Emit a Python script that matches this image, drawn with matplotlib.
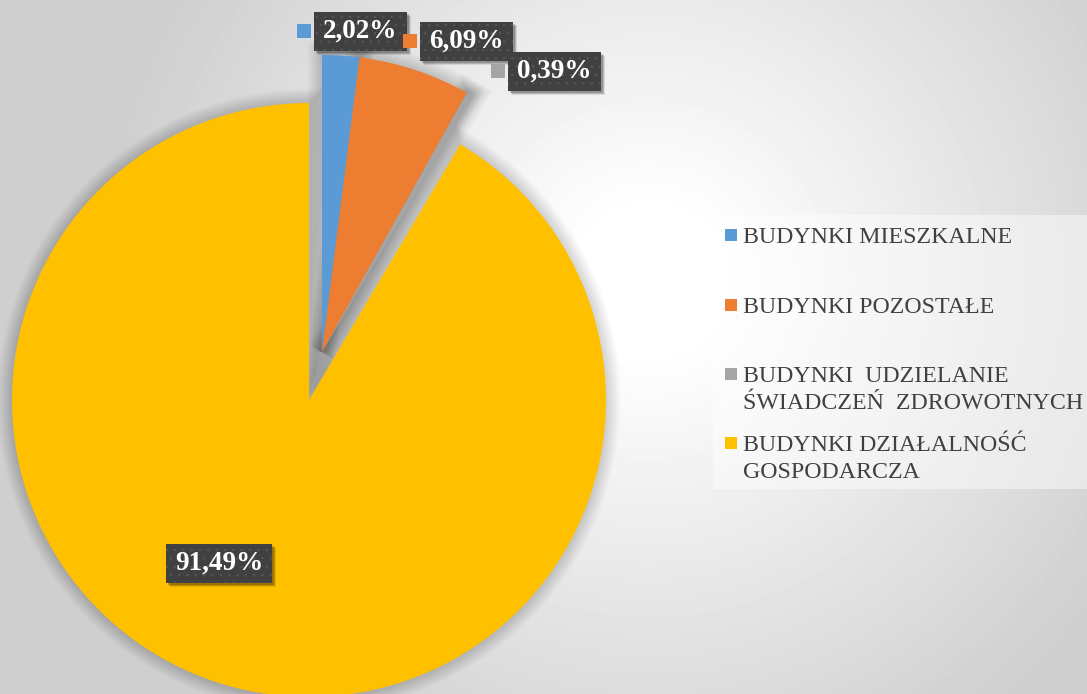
import numpy as np
import matplotlib.pyplot as plt
import matplotlib.patheffects as pe
from matplotlib.patches import Rectangle

# dane z wykresu
categories = ['BUDYNKI MIESZKALNE',
              'BUDYNKI POZOSTAŁE',
              'BUDYNKI  UDZIELANIE\nŚWIADCZEŃ  ZDROWOTNYCH',
              'BUDYNKI DZIAŁALNOŚĆ\nGOSPODARCZA']
values = [2.02, 6.09, 0.39, 91.49]
value_labels = ['2,02%', '6,09%', '0,39%', '91,49%']
colors = ['#5b9bd5', '#ed7d31', '#a5a5a5', '#ffc000']

W, H = 1087, 694
plt.rcParams['font.family'] = ['Liberation Serif', 'DejaVu Serif']
plt.rcParams['hatch.color'] = '#555555'
plt.rcParams['hatch.linewidth'] = 0.6

fig = plt.figure(figsize=(W / 100, H / 100), dpi=100)
ax = fig.add_axes([0, 0, 1, 1])

# tlo - gradient promienisty
yy, xx = np.mgrid[0:H, 0:W]
d = np.hypot(xx - 650, yy - 280)
bg = 1 - 0.19 * np.clip((d - 70) / 480, 0, 1)
ax.imshow(bg, extent=(0, W, H, 0), cmap='gray', vmin=0, vmax=1, zorder=0, aspect='auto')

# geometria kola (piksele)
R = 297
main_center = (309, 400)    # duzy wycinek
group_center = (322, 352)   # male wycinki wysuniete razem

# miekki cien - wiele cienkich obrysow
shadow_fx = [pe.Stroke(linewidth=lw, foreground='black', alpha=0.006) for lw in range(2, 22, 1)]


def draw_pie(center, keep):
    shadow, _ = ax.pie(values, center=center, radius=R, startangle=-90, counterclock=True,
                       colors=['none'] * len(values), wedgeprops=dict(linewidth=0, zorder=1))
    wedges, _ = ax.pie(values, center=center, radius=R, startangle=-90, counterclock=True,
                       colors=colors, wedgeprops=dict(linewidth=0, zorder=2))
    for i in range(len(values)):
        if i in keep:
            shadow[i].set_path_effects(shadow_fx)
        else:
            shadow[i].set_visible(False)
            wedges[i].set_visible(False)


draw_pie(main_center, [3])
draw_pie(group_center, [0, 1, 2])

# etykiety z wartosciami
label_pos = [(360.5, 31.5), (466.5, 41.5), (554.5, 71), (219, 563)]
marker_pos = [(304, 31), (410, 40.5), (498, 70.5), None]

fig.canvas.draw()
renderer = fig.canvas.get_renderer()
for i, txt in enumerate(value_labels):
    x, y = label_pos[i]
    t = ax.text(x, y, txt, ha='center', va='center', color='white', fontsize=19.5,
                fontweight='bold', zorder=5)
    ext = t.get_window_extent(renderer)
    bw = ext.width + 18
    bh = 39
    # cien pod ramka
    for off, a in ((4, 0.10), (3, 0.15), (2, 0.2)):
        ax.add_patch(Rectangle((x - bw / 2 + off, y - bh / 2 + off), bw, bh, facecolor='black',
                               alpha=a, linewidth=0, zorder=3.9))
    ax.add_patch(Rectangle((x - bw / 2, y - bh / 2), bw, bh, facecolor='#404040', hatch='..',
                           linewidth=0, zorder=4))
    if marker_pos[i] is not None:
        mx, my = marker_pos[i]
        ax.add_patch(Rectangle((mx - 7, my - 7), 14, 14, facecolor=colors[i], linewidth=0, zorder=4))

# legenda
ax.add_patch(Rectangle((713, 215), 374, 274, facecolor='white', alpha=0.45, linewidth=0, zorder=3))
baselines = [243, 313, 382, 451]
for i, name in enumerate(categories):
    b = baselines[i]
    ax.add_patch(Rectangle((725, b - 14), 12, 12, facecolor=colors[i], linewidth=0, zorder=4))
    for k, line in enumerate(name.split('\n')):
        ax.text(743, b + 27 * k, line, ha='left', va='baseline', color='#404040',
                fontsize=17.2, zorder=5)

ax.set_xlim(0, W)
ax.set_ylim(H, 0)
ax.set_aspect('auto')
ax.axis('off')

fig.savefig('out.png', dpi=100)
